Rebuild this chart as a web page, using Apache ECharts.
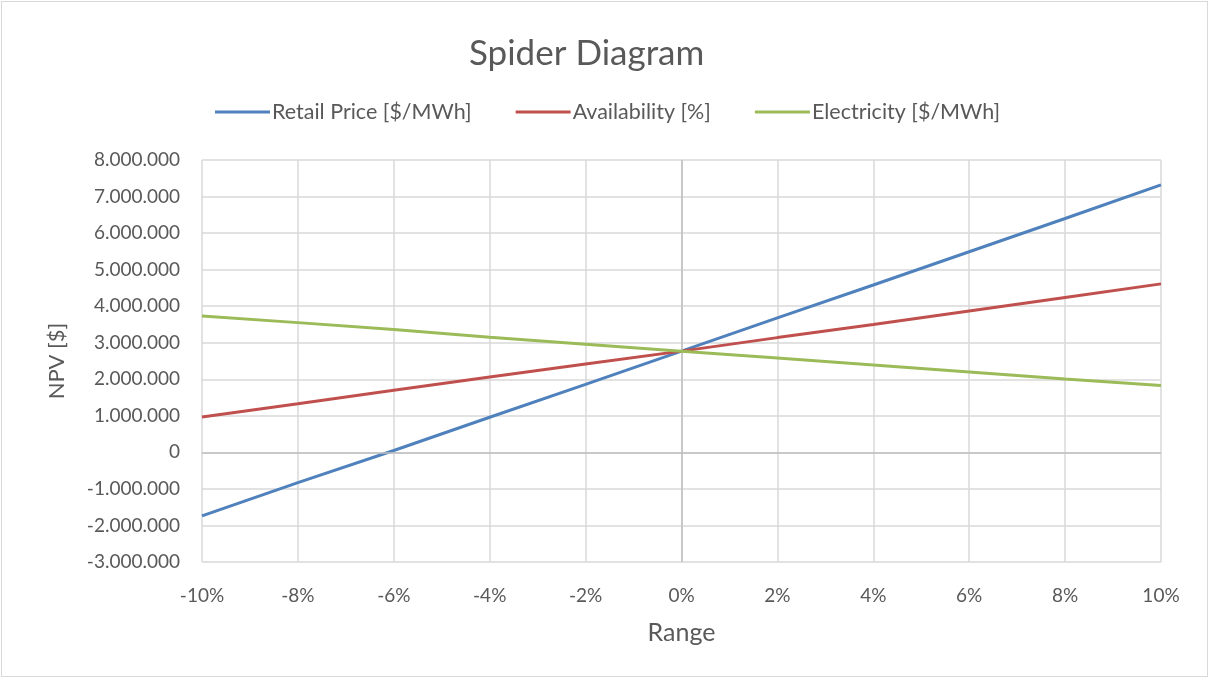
<!DOCTYPE html>
<html>
<head>
<meta charset="utf-8">
<script src="https://cdn.jsdelivr.net/npm/echarts@6/dist/echarts.min.js"></script>
<style>
  html, body { margin: 0; padding: 0; background: #fff; }
  #wrap { position: absolute; left: 1px; top: 1px; width: 1207px; height: 676px; border: 1px solid #d9d9d9; box-sizing: border-box; }
  #chart { position: absolute; left: 0; top: 0; width: 1212px; height: 681px; }
</style>
</head>
<body>
<div id="wrap"></div>
<div id="chart"></div>
<script>
// Sensitivity range in percent
const rangePct = [-10, -8, -6, -4, -2, 0, 2, 4, 6, 8, 10];
// NPV in $ for each parameter variation
const retailPrice = [-1740000, -830000, 50000, 960000, 1860000, 2770000, 3680000, 4580000, 5490000, 6400000, 7320000];
const availability = [970000, 1330000, 1700000, 2060000, 2420000, 2770000, 3140000, 3500000, 3870000, 4240000, 4610000];
const electricity = [3730000, 3550000, 3360000, 3150000, 2960000, 2770000, 2580000, 2390000, 2200000, 2010000, 1830000];

const seriesNames = ['Retail Price [$/MWh]', 'Availability [%]', 'Electricity [$/MWh]'];
const colors = ['#4f81bd', '#c0504d', '#9bbb59'];
const FONT = 'Lato, "Noto Sans", sans-serif';
const TXT = '#595959';

function pairs(vals) { return rangePct.map((x, i) => [x, vals[i]]); }
function fmtThousands(v) {
  const neg = v < 0;
  const s = Math.abs(Math.round(v)).toString().replace(/\B(?=(\d{3})+(?!\d))/g, '.');
  return (neg ? '-' : '') + s;
}

const chart = echarts.init(document.getElementById('chart'), null, { renderer: 'canvas' });
const lineSeries = [retailPrice, availability, electricity].map((vals, i) => ({
  name: seriesNames[i],
  type: 'line',
  data: pairs(vals),
  showSymbol: false,
  symbol: 'none',
  lineStyle: { width: 3, color: colors[i] },
  itemStyle: { color: colors[i] },
  z: 3 + i
}));
// zero reference lines
lineSeries[0].markLine = {
  silent: true,
  symbol: 'none',
  label: { show: false },
  lineStyle: { color: '#bfbfbf', width: 1.5, type: 'solid' },
  data: [{ xAxis: 0 }, { yAxis: 0 }]
};

chart.setOption({
  animation: false,
  color: colors,
  title: {
    text: 'Spider Diagram',
    left: 464,
    top: 31,
    textStyle: { fontFamily: FONT, fontSize: 35, fontWeight: 'normal', color: TXT }
  },
  legend: {
    top: 96,
    left: 210,
    itemWidth: 55,
    itemHeight: 3,
    itemGap: 44,
    icon: 'rect',
    data: seriesNames,
    textStyle: { fontFamily: FONT, fontSize: 21.5, color: TXT, padding: [0, 0, 0, -3] }
  },
  grid: { left: 202, right: 51, top: 160, bottom: 119, containLabel: false },
  xAxis: {
    type: 'value',
    min: -10, max: 10, interval: 2,
    name: 'Range',
    nameLocation: 'middle',
    nameGap: 58,
    nameTextStyle: { fontFamily: FONT, fontSize: 25, color: TXT },
    axisLine: { show: false, onZero: false },
    axisTick: { show: false },
    axisLabel: { fontFamily: FONT, fontSize: 19, color: TXT, margin: 24, formatter: v => v + '%' },
    splitLine: { show: true, lineStyle: { color: '#d9d9d9', width: 1.5 } }
  },
  yAxis: {
    type: 'value',
    min: -3000000, max: 8000000, interval: 1000000,
    name: 'NPV [$]',
    nameLocation: 'middle',
    nameGap: 134,
    nameRotate: 90,
    nameTextStyle: { fontFamily: FONT, fontSize: 22, color: TXT },
    axisLine: { show: false, onZero: false },
    axisTick: { show: false },
    axisLabel: { fontFamily: FONT, fontSize: 19, color: TXT, margin: 22, formatter: fmtThousands },
    splitLine: { show: true, lineStyle: { color: '#d9d9d9', width: 1.5 } }
  },
  series: lineSeries
});
</script>
</body>
</html>
